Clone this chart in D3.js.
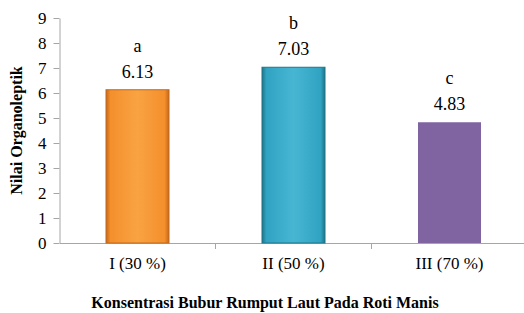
<!DOCTYPE html>
<html>
<head>
<meta charset="UTF-8">
<title>Nilai Organoleptik</title>
<script src="https://d3js.org/d3.v7.min.js"></script>
</head>
<body style="margin:0; background:#fff;">
<svg width="524" height="313"></svg>
<script>
    var categories = ["I (30 %)", "II (50 %)", "III (70 %)"];
    var values = [6.13, 7.03, 4.83];
    var letters = ["a", "b", "c"];
    var yTicks = [0, 1, 2, 3, 4, 5, 6, 7, 8, 9];
    var colors = [
        { main: "#f48f2c", light: "#f9a343", dark: "#c4681c" },
        { main: "#31a3c2", light: "#46b6d3", dark: "#1f7589" },
        { main: "#8063a1", light: "#8063a1", dark: "#8063a1" }
    ];

    var FONT = "Liberation Serif";
    var axisColor = "#a6a6a6";
    var margin = { top: 18, right: 0, bottom: 70, left: 59.5 };
    var svg = d3.select("svg").attr("font-family", FONT);
    var width = 468, height = 225;

    var x = d3.scaleBand().domain(categories).range([0, width]).padding(0);
    var y = d3.scaleLinear().domain([0, 9]).range([height, 0]);

    var defs = svg.append("defs");
    colors.forEach(function(c, i) {
        var g = defs.append("linearGradient").attr("id", "grad" + i)
            .attr("x1", 0).attr("x2", 1).attr("y1", 0).attr("y2", 0);
        g.append("stop").attr("offset", "0%").attr("stop-color", c.dark);
        g.append("stop").attr("offset", "7%").attr("stop-color", c.main);
        g.append("stop").attr("offset", "50%").attr("stop-color", c.light);
        g.append("stop").attr("offset", "93%").attr("stop-color", c.main);
        g.append("stop").attr("offset", "100%").attr("stop-color", c.dark);
    });

    var chart = svg.append("g")
        .attr("transform", "translate(" + margin.left + "," + margin.top + ")");

    function styleAxis(g) {
        g.attr("font-family", FONT).attr("font-size", 17);
        g.selectAll("path, line").attr("stroke", axisColor);
        g.selectAll("text").attr("fill", "#000").attr("font-family", FONT);
    }

    // y axis
    chart.append("g")
        .call(d3.axisLeft(y).tickValues(yTicks).tickSize(6).tickSizeOuter(0).tickPadding(7))
        .call(styleAxis)
        .call(function(g) { g.selectAll("text").attr("dy", "0.34em"); });

    // x axis
    var xa = chart.append("g")
        .attr("transform", "translate(0," + height + ")")
        .call(d3.axisBottom(x).tickSize(0).tickPadding(14))
        .call(styleAxis);
    xa.selectAll(".tick line").remove();
    xa.selectAll(".sep")
        .data(categories.slice(1))
        .enter().append("line")
        .attr("x1", function(d) { return x(d); })
        .attr("x2", function(d) { return x(d); })
        .attr("y1", 0).attr("y2", 6)
        .attr("stroke", axisColor);

    var barW = 63;
    var bars = chart.selectAll(".bar")
        .data(values)
        .enter().append("g");

    bars.append("rect")
        .attr("x", function(d, i) { return x(categories[i]) + x.bandwidth() / 2 - barW / 2; })
        .attr("y", function(d) { return y(d); })
        .attr("width", barW)
        .attr("height", function(d) { return height - y(d); })
        .attr("fill", function(d, i) { return "url(#grad" + i + ")"; })
        .attr("stroke", function(d, i) { return i < 2 ? colors[i].dark : "none"; })
        .attr("stroke-width", 1);

    bars.append("text")
        .attr("x", function(d, i) { return x(categories[i]) + x.bandwidth() / 2; })
        .attr("y", function(d) { return y(d) - 12; })
        .attr("text-anchor", "middle").attr("font-size", 18).attr("font-family", FONT)
        .text(function(d) { return d.toFixed(2); });

    bars.append("text")
        .attr("x", function(d, i) { return x(categories[i]) + x.bandwidth() / 2; })
        .attr("y", function(d) { return y(d) - 38; })
        .attr("text-anchor", "middle").attr("font-size", 18).attr("font-family", FONT)
        .text(function(d, i) { return letters[i]; });

    // titles
    svg.append("text")
        .attr("transform", "translate(22," + (margin.top + height / 2) + ") rotate(-90)")
        .attr("text-anchor", "middle").attr("font-size", 16).attr("font-weight", "bold")
        .attr("font-family", FONT)
        .text("Nilai Organoleptik");

    svg.append("text")
        .attr("x", 265).attr("y", 308)
        .attr("text-anchor", "middle").attr("font-size", 16).attr("font-weight", "bold")
        .attr("font-family", FONT)
        .text("Konsentrasi Bubur Rumput Laut Pada Roti Manis");
</script>
</body>
</html>
